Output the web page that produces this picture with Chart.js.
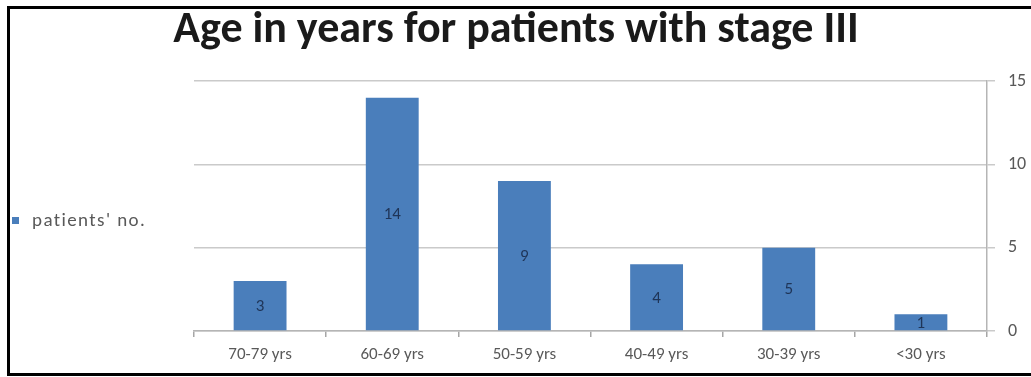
<!DOCTYPE html>
<html>
<head>
<meta charset="utf-8">
<script src="https://cdn.jsdelivr.net/npm/chart.js@4/dist/chart.umd.min.js"></script>
<style>
  html, body { margin: 0; padding: 0; background: #fff; overflow: hidden; }
  #box { width: 1031px; height: 377px; position: relative; }
</style>
</head>
<body>
<div id="box"><canvas id="c"></canvas></div>
<script>
// Chart content
const chartTitle = 'Age in years for patients with stage III';
const seriesName = "patients' no.";
const ageGroups = ['70-79 yrs', '60-69 yrs', '50-59 yrs', '40-49 yrs', '30-39 yrs', '<30 yrs'];
const patientCounts = [3, 14, 9, 4, 5, 1];
const countTicks = [0, 5, 10, 15];

const FAMILY = "Carlito, 'Liberation Sans Narrow', Lato, sans-serif";
const BAR_BLUE = '#4a7ebb';
const TEXT_GREY = '#595959';

Chart.defaults.font.family = FAMILY;

// Frame, title, legend and in-bar value labels
const decor = {
  id: 'decor',
  beforeDraw(chart) {
    const ctx = chart.ctx;
    ctx.save();
    ctx.fillStyle = '#fff';
    ctx.fillRect(0, 0, chart.width, chart.height);
    ctx.restore();
  },
  afterDatasetsDraw(chart) {
    const ctx = chart.ctx;
    const meta = chart.getDatasetMeta(0);
    ctx.save();
    ctx.font = '17px ' + FAMILY;
    ctx.fillStyle = '#1f3558';
    ctx.textAlign = 'center';
    ctx.textBaseline = 'middle';
    meta.data.forEach((bar, i) => {
      const p = bar.getProps(['x', 'y', 'base'], true);
      ctx.fillText(String(patientCounts[i]), p.x, (p.y + p.base) / 2 + 1);
    });
    ctx.restore();
  },
  afterDraw(chart) {
    const ctx = chart.ctx;
    ctx.save();
    // title
    ctx.font = 'bold 44px ' + FAMILY;
    ctx.fillStyle = '#1a1a1a';
    ctx.textAlign = 'center';
    ctx.textBaseline = 'alphabetic';
    ctx.fillText(chartTitle, 516, 42);
    // legend
    ctx.fillStyle = BAR_BLUE;
    ctx.fillRect(12, 217, 7, 7);
    ctx.font = '19px ' + FAMILY;
    ctx.fillStyle = TEXT_GREY;
    ctx.textAlign = 'left';
    ctx.textBaseline = 'middle';
    ctx.letterSpacing = '1.4px';
    ctx.fillText(seriesName, 32, 221);
    ctx.letterSpacing = '0px';
    // outer frame: left, top and bottom edges (the right edge lies beyond the canvas)
    ctx.strokeStyle = '#000';
    ctx.lineWidth = 3;
    ctx.beginPath();
    ctx.moveTo(chart.width + 10, 7.5);
    ctx.lineTo(8.5, 7.5);
    ctx.lineTo(8.5, 374.5);
    ctx.lineTo(chart.width + 10, 374.5);
    ctx.stroke();
    ctx.restore();
  }
};

new Chart(document.getElementById('c'), {
  type: 'bar',
  data: {
    labels: ageGroups,
    datasets: [{
      label: seriesName,
      data: patientCounts,
      backgroundColor: BAR_BLUE,
      borderWidth: 0,
      categoryPercentage: 1,
      barPercentage: 0.4
    }]
  },
  options: {
    responsive: true,
    maintainAspectRatio: false,
    animation: false,
    layout: { padding: { left: 194, top: 81, right: 0, bottom: 0 } },
    plugins: {
      legend: { display: false },
      title: { display: false },
      tooltip: { enabled: false }
    },
    scales: {
      x: {
        offset: true,
        grid: { offset: true, drawOnChartArea: false, tickLength: 6, color: '#a6a6a6', lineWidth: 1.5 },
        border: { color: '#b5b5b5', width: 1.5 },
        ticks: { color: TEXT_GREY, font: { size: 17 }, padding: 8, maxRotation: 0 },
        afterFit(scale) { scale.height = 46; }
      },
      y: {
        position: 'right',
        min: 0,
        max: 15,
        grid: { color: '#cacaca', lineWidth: 1.5, tickLength: 8 },
        border: { color: '#b5b5b5', width: 1.5 },
        ticks: { color: TEXT_GREY, font: { size: 18 }, padding: 13 },
        afterBuildTicks(scale) { scale.ticks = countTicks.map(v => ({ value: v })); },
        afterFit(scale) { scale.width = 44; }
      }
    }
  },
  plugins: [decor]
});
</script>
</body>
</html>
